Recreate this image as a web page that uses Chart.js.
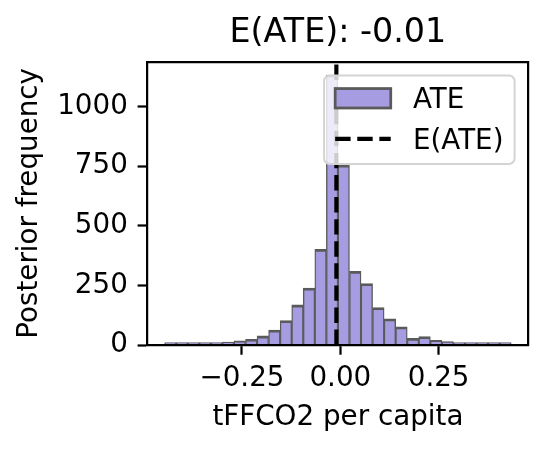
<!DOCTYPE html>
<html>
<head>
<meta charset="utf-8">
<script src="https://cdn.jsdelivr.net/npm/chart.js@4.4.1/dist/chart.umd.min.js"></script>
<style>
  html, body { margin: 0; padding: 0; background: #fff; }
  canvas { display: block; }
</style>
</head>
<body>
<canvas id="ate" width="549" height="450"></canvas>
<script>
// histogram of the posterior ATE draws (30 bins), counts
const binEdges = [
  -0.4466, -0.4172, -0.3879, -0.3585, -0.3291, -0.2998, -0.2704, -0.2410,
  -0.2116, -0.1823, -0.1529, -0.1235, -0.0942, -0.0648, -0.0354, -0.0061,
   0.0233,  0.0527,  0.0821,  0.1114,  0.1408,  0.1702,  0.1995,  0.2289,
   0.2583,  0.2877,  0.3170,  0.3464,  0.3758,  0.4051,  0.4345
];
const counts = [
  1, 2, 3, 3, 5, 12, 17, 24, 38, 63,
  102, 168, 239, 401, 1132, 755, 309, 258, 157, 110,
  76, 28, 35, 20, 14, 10, 7, 3, 2, 2
];
const meanATE = -0.01;

const xRange = [-0.4907, 0.4785];
const xTicks = [-0.25, 0, 0.25];
const xTickLabels = ['\u22120.25', '0.00', '0.25'];
const yMax = 1188;
const yTicks = [0, 250, 500, 750, 1000];

const PT = 200 / 72;          // matplotlib points -> px at 200 dpi
const FS = 10 * PT;
const barFill = '#a69ce1';
const barEdge = '#5a5a5a';

Chart.defaults.font.family = 'DejaVu Sans';
Chart.defaults.font.size = FS;
Chart.defaults.color = '#000';

const centers = counts.map((c, i) => ({ x: (binEdges[i] + binEdges[i + 1]) / 2, y: c }));

// matplotlib style legend, drawn on top of everything
const legendBox = {
  id: 'legendBox',
  afterDraw(chart) {
    const ctx = chart.ctx, area = chart.chartArea;
    const [bars, line] = chart.data.datasets;
    const x1 = area.right - 0.5 * FS;
    const y0 = area.top + 0.5 * FS;
    ctx.save();
    ctx.font = FS + 'px "DejaVu Sans"';
    const tw = Math.max(ctx.measureText(bars.label).width, ctx.measureText(line.label).width);
    const w = tw + 2 * FS + 0.8 * FS + 0.8 * FS;
    const x0 = x1 - w;
    const y1 = y0 + 3.18 * FS;
    ctx.beginPath();
    ctx.roundRect(x0, y0, w, y1 - y0, 0.2 * FS);
    ctx.fillStyle = 'rgba(255,255,255,0.8)';
    ctx.fill();
    ctx.lineWidth = 2;
    ctx.strokeStyle = '#d4d4d4';
    ctx.stroke();

    const hx = x0 + 0.4 * FS, hw = 2 * FS, tx = hx + hw + 0.8 * FS;
    const r1 = y0 + 0.817 * FS, r2 = r1 + 1.464 * FS;
    ctx.fillStyle = bars.backgroundColor;
    ctx.fillRect(hx, r1 - 0.35 * FS, hw, 0.7 * FS);
    ctx.lineWidth = PT;
    ctx.strokeStyle = bars.borderColor;
    ctx.strokeRect(hx, r1 - 0.35 * FS, hw, 0.7 * FS);

    ctx.beginPath();
    ctx.setLineDash(line.borderDash);
    ctx.lineWidth = line.borderWidth;
    ctx.strokeStyle = line.borderColor;
    ctx.moveTo(hx, r2);
    ctx.lineTo(hx + hw, r2);
    ctx.stroke();
    ctx.setLineDash([]);

    ctx.fillStyle = '#000';
    ctx.textBaseline = 'alphabetic';
    ctx.fillText(bars.label, tx, r1 + 0.36 * FS);
    ctx.fillText(line.label, tx, r2 + 0.36 * FS);
    ctx.restore();
  }
};

const tickGrid = { display: true, drawOnChartArea: false, drawTicks: true, tickLength: 3.5 * PT, tickWidth: 0.8 * PT, tickColor: '#000' };
const frameBorder = { display: true, color: '#000', width: 0.8 * PT, z: 1 };

new Chart(document.getElementById('ate'), {
  type: 'bar',
  data: {
    datasets: [
      {
        type: 'bar',
        label: 'ATE',
        data: centers,
        backgroundColor: barFill,
        borderColor: barEdge,
        borderWidth: { top: PT, left: PT / 2, right: PT / 2, bottom: 0 },
        borderSkipped: false,
        barPercentage: 1,
        categoryPercentage: 1,
        minBarLength: 2.5,     // matplotlib still shows the edge of near-empty bins
        order: 1
      },
      {
        type: 'line',
        label: 'E(ATE)',
        data: [{ x: meanATE, y: 0 }, { x: meanATE, y: yMax }],
        borderColor: '#000',
        borderWidth: 1.5 * PT,
        borderDash: [3.7 * 1.5 * PT, 1.6 * 1.5 * PT],
        pointRadius: 0,
        order: 0
      }
    ]
  },
  options: {
    responsive: false,
    animation: false,
    layout: { padding: { top: 13.5, right: 20.5, bottom: 0, left: 0 } },
    plugins: {
      legend: { display: false },
      tooltip: { enabled: false },
      title: {
        display: true,
        fullSize: false,
        text: 'E(ATE): ' + meanATE.toFixed(2),
        font: { size: 12 * PT, weight: 'normal' },
        color: '#000',
        padding: { top: 0, bottom: 8.2 }
      }
    },
    scales: {
      x: {
        type: 'linear',
        min: xRange[0],
        max: xRange[1],
        offset: false,
        grid: Object.assign({ offset: false }, tickGrid),
        border: frameBorder,
        afterBuildTicks: s => { s.ticks = xTicks.map(v => ({ value: v })); },
        ticks: { padding: 7, maxRotation: 0, callback: (v, i) => xTickLabels[i] },
        title: { display: true, text: 'tFFCO2 per capita', padding: { top: 0, bottom: 15.4 } },
        afterFit: s => { s.height = 105; }
      },
      y: {
        min: 0,
        max: yMax,
        grid: tickGrid,
        border: frameBorder,
        afterBuildTicks: s => { s.ticks = yTicks.map(v => ({ value: v })); },
        ticks: { padding: 3.5 * PT, callback: v => String(v) },
        title: { display: true, text: 'Posterior frequency', padding: { top: 13.3, bottom: 0 } },
        afterFit: s => { s.width = 147.3; }
      },
      xTop: {
        type: 'linear', position: 'top', min: xRange[0], max: xRange[1],
        grid: { display: false }, ticks: { display: false }, border: frameBorder,
        afterFit: s => { s.height = 0; }
      },
      yRight: {
        type: 'linear', position: 'right', min: 0, max: yMax,
        grid: { display: false }, ticks: { display: false }, border: frameBorder,
        afterFit: s => { s.width = 0; }
      }
    }
  },
  plugins: [legendBox]
});
</script>
</body>
</html>
